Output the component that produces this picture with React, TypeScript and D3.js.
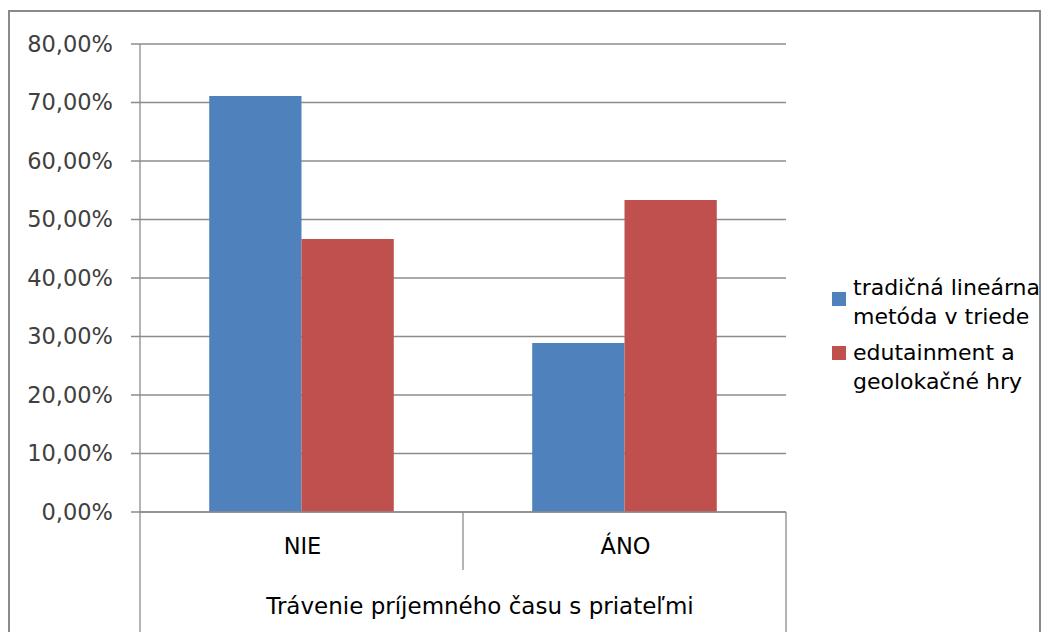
import React from "react";
import * as d3 from "d3";

const categories = ["NIE", "ÁNO"];
const seriesNames = ["tradičná lineárna metóda v triede", "edutainment a geolokačné hry"];
const legendLines = [["tradičná lineárna", "metóda v triede"], ["edutainment a", "geolokačné hry"]];
const traditional = [71.11, 28.89];
const edutainment = [46.67, 53.33];
const yTicks = [0, 10, 20, 30, 40, 50, 60, 70, 80];
const groupTitle = "Trávenie príjemného času s priateľmi";
const colors = ["#4F81BD", "#C0504D"];

const W = 1042;
const H = 632;
const left = 140;
const right = 786;
const top = 44;
const bottom = 512;
const FONT = "'DejaVu Sans', Verdana, sans-serif";

export default function App() {
  const x = d3.scaleBand<string>().domain(categories).range([left, right]).paddingInner(0).paddingOuter(0);
  const inner = d3.scaleBand<number>().domain([0, 1]).range([0, x.bandwidth()]).paddingInner(0).paddingOuter(0.75);
  const y = d3.scaleLinear().domain([0, 80]).range([bottom, top]);
  const series = [traditional, edutainment];
  const fmt = (v: number) => v.toFixed(2).replace(".", ",") + "%";
  const gridColor = "#8c8c8c";

  return (
    <svg width={W} height={H} style={{ position: "absolute", left: 0, top: 0, background: "#fff" }} fontFamily={FONT}>
      <rect x={9} y={11} width={1031} height={H + 20} fill="#fff" stroke="#8a8a8a" strokeWidth={2} />
      {yTicks.map((t) => (
        <g key={t}>
          <line x1={131} x2={right} y1={y(t)} y2={y(t)} stroke={gridColor} strokeWidth={1.3} />
          <text x={113} y={y(t)} dy="0.35em" textAnchor="end" fontSize={22.5} fill="#404040">
            {fmt(t)}
          </text>
        </g>
      ))}
      {series.map((vals, si) =>
        categories.map((c, ci) => (
          <rect
            key={si + "-" + ci}
            x={(x(c) as number) + (inner(si) as number)}
            y={y(vals[ci])}
            width={inner.bandwidth()}
            height={bottom - y(vals[ci])}
            fill={colors[si]}
          />
        ))
      )}
      <line x1={left} x2={left} y1={top} y2={H} stroke={gridColor} strokeWidth={1.3} />
      <line x1={right} x2={right} y1={bottom} y2={H} stroke={gridColor} strokeWidth={1.3} />
      <line x1={x(categories[1]) as number} x2={x(categories[1]) as number} y1={bottom} y2={570} stroke={gridColor} strokeWidth={1.3} />
      <line x1={left} x2={right} y1={bottom} y2={bottom} stroke={gridColor} strokeWidth={1.3} />
      {categories.map((c) => (
        <text key={c} x={(x(c) as number) + x.bandwidth() / 2 + 1} y={546} dy="0.35em" textAnchor="middle" fontSize={22.5} fill="#000">
          {c}
        </text>
      ))}
      <text x={480} y={606} dy="0.35em" textAnchor="middle" fontSize={23} fill="#000">
        {groupTitle}
      </text>
      {legendLines.map((lines, i) => (
        <g key={seriesNames[i]}>
          <rect x={832} y={i === 0 ? 292 : 346} width={14} height={14} fill={colors[i]} />
          {lines.map((l, j) => (
            <text key={l} x={853} y={(i === 0 ? 287 : 352) + j * 29} dy="0.35em" fontSize={22} fill="#000">
              {l}
            </text>
          ))}
        </g>
      ))}
    </svg>
  );
}
